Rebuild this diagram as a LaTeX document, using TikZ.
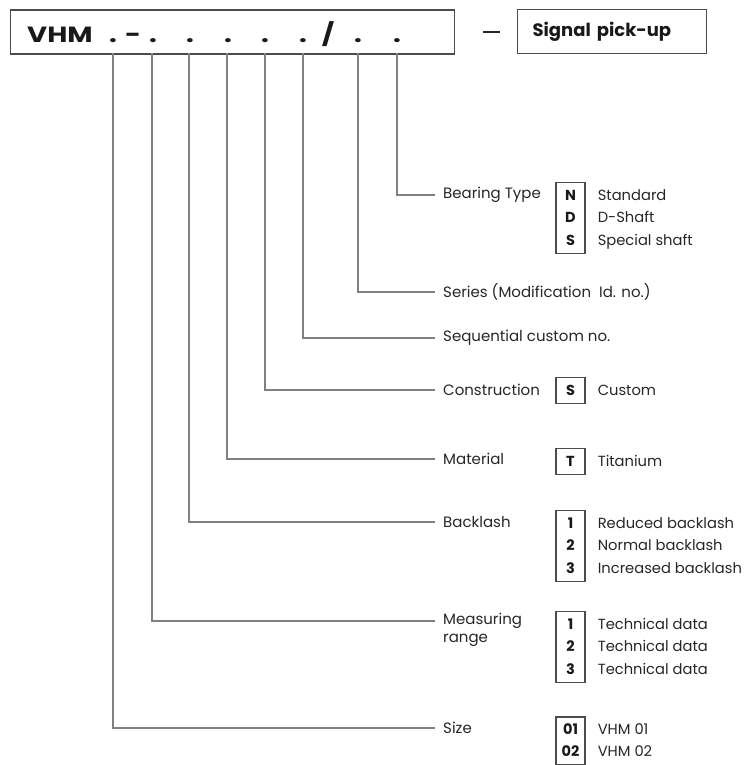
\documentclass[tikz,border=0pt]{standalone}
\usepackage{fontspec}
\setmainfont{Poppins}
\newfontfamily\codefont{Poppins}[FakeStretch=1.25]
\usetikzlibrary{positioning}

\begin{document}
\begin{tikzpicture}[x=1pt,y=-1pt,
  lead/.style={draw=black!50, line width=1.6},
  frame/.style={draw=black!70, line width=1.2},
  lbl/.style={anchor=west, inner xsep=8, inner ysep=0, text=black!85, font=\fontsize{15}{18}\selectfont},
  keybox/.style={frame, align=center, minimum width=29, inner xsep=0, inner ysep=1.5, text=black!90, font=\bfseries\fontsize{14.5}{22.5}\selectfont},
  desc/.style={right=12 of #1, align=left, inner sep=0, text=black!85, font=\fontsize{14.7}{22.5}\selectfont},
  codech/.style={anchor=base, inner sep=0, text=black!90, font=\codefont\bfseries\fontsize{22}{24}\selectfont}]
 \useasboundingbox (0,0) rectangle (748,765);
 \clip (0,0) rectangle (748,765);

 % type code box
 \node[frame, anchor=north west, minimum width=444, minimum height=44] (code) at (10,9.5) {};
 \node[codech, anchor=base west] (vhm) at (27,43) {VHM};
 \foreach \x/\c in {113/., 133/-, 153/., 190/., 228/., 265/., 303/., 358/., 397/.}
   \node[codech] at (\x,43) {\c};
 \node[codech] (slash) at (328,43) {/};

 % dash and signal pick-up box
 \node[anchor=center, inner sep=0, text=black!85] (dash) at (491.5,32) {\rule{17pt}{1.4pt}};
 \node[frame, anchor=north west, minimum height=44, text width=159, inner xsep=15, align=left,
   text=black!90, font=\bfseries\fontsize{18}{20}\selectfont] (signal) at (517,9) {Signal pick-up};

 % positions on the code box
 \coordinate (cSize) at (113,53);
 \coordinate (cRange) at (152,53);
 \coordinate (cBack) at (189,53);
 \coordinate (cMat) at (227,53);
 \coordinate (cCons) at (265,53);
 \coordinate (cSeq) at (303,53);
 \coordinate (cSer) at (358,53);
 \coordinate (cBear) at (397,53);

 % labels
 \node[lbl] (bear) at (435,195) {Bearing Type};
 \node[lbl] (ser) at (435,292) {Series (Modification\ \ Id. no.)};
 \node[lbl] (seq) at (435,338) {Sequential custom no.};
 \node[lbl] (cons) at (435,390) {Construction};
 \node[lbl] (mat) at (435,459) {Material};
 \node[lbl] (back) at (435,522) {Backlash};
 \node[lbl, align=left] (range) at (435,630) {Measuring\\range};
 \node[lbl] (size) at (435,728) {Size};

 % leads
 \draw[lead] (cBear) |- (bear.west);
 \draw[lead] (cSer) |- (ser.west);
 \draw[lead] (cSeq) |- (seq.west);
 \draw[lead] (cCons) |- (cons.west);
 \draw[lead] (cMat) |- (mat.west);
 \draw[lead] (cBack) |- (back.west);
 \draw[lead] (cRange) |- ([yshift=9]range.west);
 \draw[lead] (cSize) |- (size.west);

 % option keys
 \node[keybox] (kBear) at (570.5,218) {\strut N\\\strut D\\\strut S};
 \node[desc=kBear] (dBear) {\strut Standard\\\strut D-Shaft\\\strut Special shaft};

 \node[keybox] (kCons) at (570.5,390.5) {\strut S};
 \node[desc=kCons] (dCons) {\strut Custom};

 \node[keybox] (kMat) at (570.5,461.5) {\strut T};
 \node[desc=kMat] (dMat) {\strut Titanium};

 \node[keybox] (kBack) at (570.5,546) {\strut 1\\\strut 2\\\strut 3};
 \node[desc=kBack] (dBack) {\strut Reduced backlash\\\strut Normal backlash\\\strut Increased backlash};

 \node[keybox] (kRange) at (570.5,647) {\strut 1\\\strut 2\\\strut 3};
 \node[desc=kRange] (dRange) {\strut Technical data\\\strut Technical data\\\strut Technical data};

 \node[keybox] (kSize) at (570.5,741) {\strut 01\\\strut 02};
 \node[desc=kSize] (dSize) {\strut VHM 01\\\strut VHM 02};
\end{tikzpicture}
\end{document}
